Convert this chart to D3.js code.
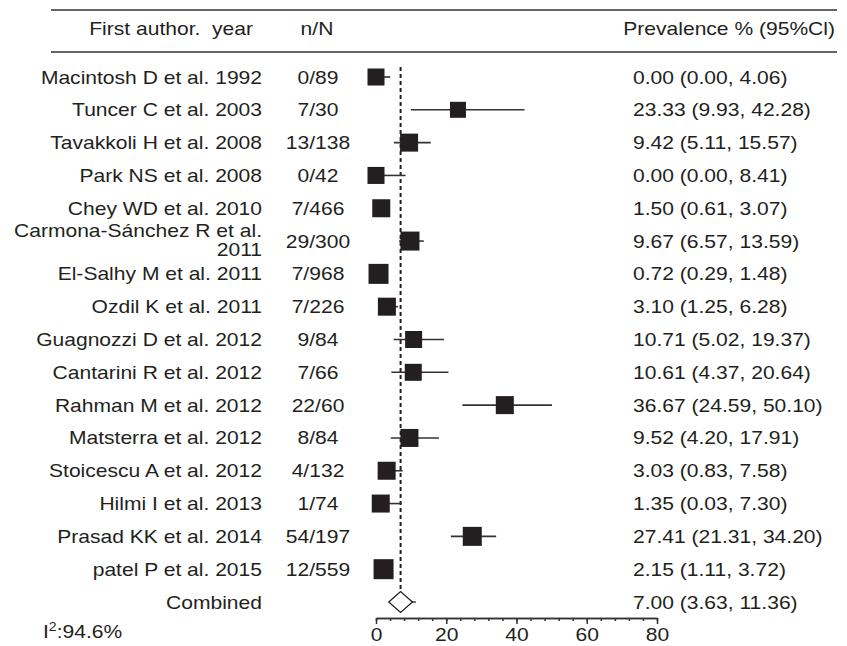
<!DOCTYPE html>
<html><head><meta charset="utf-8">
<script src="https://cdn.jsdelivr.net/npm/d3@7"></script>
<style>
body{margin:0;background:#fff}
svg text{font-family:"Liberation Sans",Arial,Helvetica,sans-serif;fill:#231f20}
</style></head>
<body><svg id="c" width="847" height="646"></svg>
<script>
const studies=["Macintosh D et al. 1992","Tuncer C et al. 2003","Tavakkoli H et al. 2008","Park NS et al. 2008","Chey WD et al. 2010","Carmona-Sánchez R et al.\n2011","El-Salhy M et al. 2011","Ozdil K et al. 2011","Guagnozzi D et al. 2012","Cantarini R et al. 2012","Rahman M et al. 2012","Matsterra et al. 2012","Stoicescu A et al. 2012","Hilmi I et al. 2013","Prasad KK et al. 2014","patel P et al. 2015"];
const nN=["0/89","7/30","13/138","0/42","7/466","29/300","7/968","7/226","9/84","7/66","22/60","8/84","4/132","1/74","54/197","12/559"];
const est=[0.00,23.33,9.42,0.00,1.50,9.67,0.72,3.10,10.71,10.61,36.67,9.52,3.03,1.35,27.41,2.15];
const lo=[0.00,9.93,5.11,0.00,0.61,6.57,0.29,1.25,5.02,4.37,24.59,4.20,0.83,0.03,21.31,1.11];
const hi=[4.06,42.28,15.57,8.41,3.07,13.59,1.48,6.28,19.37,20.64,50.10,17.91,7.58,7.30,34.20,3.72];
const weights=[5.56,4.92,6.23,5.56,6.23,6.94,7.69,6.23,5.56,5.56,6.23,6.23,6.23,6.23,6.94,7.69];
const combinedLabel="Combined";
const combined={est:7.00,lo:3.63,hi:11.36};
const xMajorTicks=[0,20,40,60,80];
const xMinorStep=4;
const headers={author:"First author.  year",nN:"n/N",prev:"Prevalence % (95%Cl)"};
const i2Value="94.6%";

const svg=d3.select("#c");
const SX=1.17, FS=18, INK="#231f20";
const x=d3.scaleLinear().domain([0,80]).range([376,657]);
const rows=[...studies,combinedLabel];
const y=d3.scalePoint().domain(rows).range([77,602]);
const size=d3.scaleSqrt().domain([0,d3.max(weights)]).range([0,20]);
const fmt=d3.format(".2f");

function txt(xp,yp,str,anchor){
  return svg.append("text").attr("transform",`translate(${xp},${yp}) scale(${SX},1)`)
    .attr("text-anchor",anchor).attr("font-size",FS).text(str);
}

// header rules
[10,52].forEach(yy=>svg.append("line").attr("x1",51).attr("x2",837).attr("y1",yy).attr("y2",yy)
  .attr("stroke","#333").attr("stroke-width",1.6));
txt(253,35,headers.author,"end").attr("xml:space","preserve").style("white-space","pre");
txt(317,35,headers.nN,"middle");
txt(835,35,headers.prev,"end");

// study labels
studies.forEach((s,i)=>{
  const yc=y(s);
  const parts=s.split("\n");
  if(parts.length===1){ txt(262,yc+6.5,s,"end"); }
  else { txt(262,yc-4,parts[0],"end"); txt(262,yc+15,parts[1],"end"); }
  txt(318,yc+6.5,nN[i],"middle");
  txt(633,yc+6.5,`${fmt(est[i])} (${fmt(lo[i])}, ${fmt(hi[i])})`,"start");
});
txt(262,y(combinedLabel)+6.5,combinedLabel,"end");
txt(633,y(combinedLabel)+6.5,`${fmt(combined.est)} (${fmt(combined.lo)}, ${fmt(combined.hi)})`,"start");

// reference dashed line
svg.append("line").attr("x1",x(combined.est)).attr("x2",x(combined.est))
  .attr("y1",y(studies[0])-10).attr("y2",y(combinedLabel)-11)
  .attr("stroke",INK).attr("stroke-width",2).attr("stroke-dasharray","4,3");

// whiskers
const g=svg.append("g");
g.selectAll("line.w").data(studies).join("line").attr("class","w")
  .attr("x1",(d,i)=>x(lo[i])).attr("x2",(d,i)=>x(hi[i]))
  .attr("y1",d=>y(d)).attr("y2",d=>y(d)).attr("stroke","#333").attr("stroke-width",1.6);
g.selectAll("rect").data(studies).join("rect")
  .attr("x",(d,i)=>x(est[i])-size(weights[i])/2).attr("y",(d,i)=>y(d)-size(weights[i])/2)
  .attr("width",(d,i)=>size(weights[i])).attr("height",(d,i)=>size(weights[i]))
  .attr("fill",INK);

// combined diamond
const yc=y(combinedLabel), hw=x(combined.est)-x(combined.lo);
svg.append("line").attr("x1",x(combined.est)).attr("x2",x(combined.hi)).attr("y1",yc).attr("y2",yc)
  .attr("stroke","#333").attr("stroke-width",1.4);
svg.append("path").attr("d",`M${x(combined.lo)},${yc} L${x(combined.est)},${yc-10.5} L${x(combined.est)+hw},${yc} L${x(combined.est)},${yc+10.5} Z`)
  .attr("fill","#fff").attr("stroke",INK).attr("stroke-width",1.3);

// axis
const axY=618;
const minor=svg.append("g").attr("transform",`translate(0,${axY})`)
  .call(d3.axisBottom(x).tickValues(d3.range(0,81,xMinorStep)).tickSize(3).tickSizeOuter(0).tickFormat(""));
const major=svg.append("g").attr("transform",`translate(0,${axY})`)
  .call(d3.axisBottom(x).tickValues(xMajorTicks).tickSize(6).tickSizeOuter(0));
[minor,major].forEach(a=>{a.selectAll("path,line").attr("stroke","#333").attr("stroke-width",1.5);});
major.selectAll("text").attr("font-size",FS).attr("y",23).attr("dy",0)
  .attr("transform",`scale(${SX},1)`).attr("fill",INK).style("font-family",'"Liberation Sans",Arial,sans-serif');

// I^2
const t=svg.append("text").attr("transform",`translate(43,638) scale(${SX},1)`).attr("font-size",FS);
t.append("tspan").text("I");
t.append("tspan").attr("font-size",12).attr("dy",-7).text("2");
t.append("tspan").attr("dy",7).text(":"+i2Value);
</script></body></html>
